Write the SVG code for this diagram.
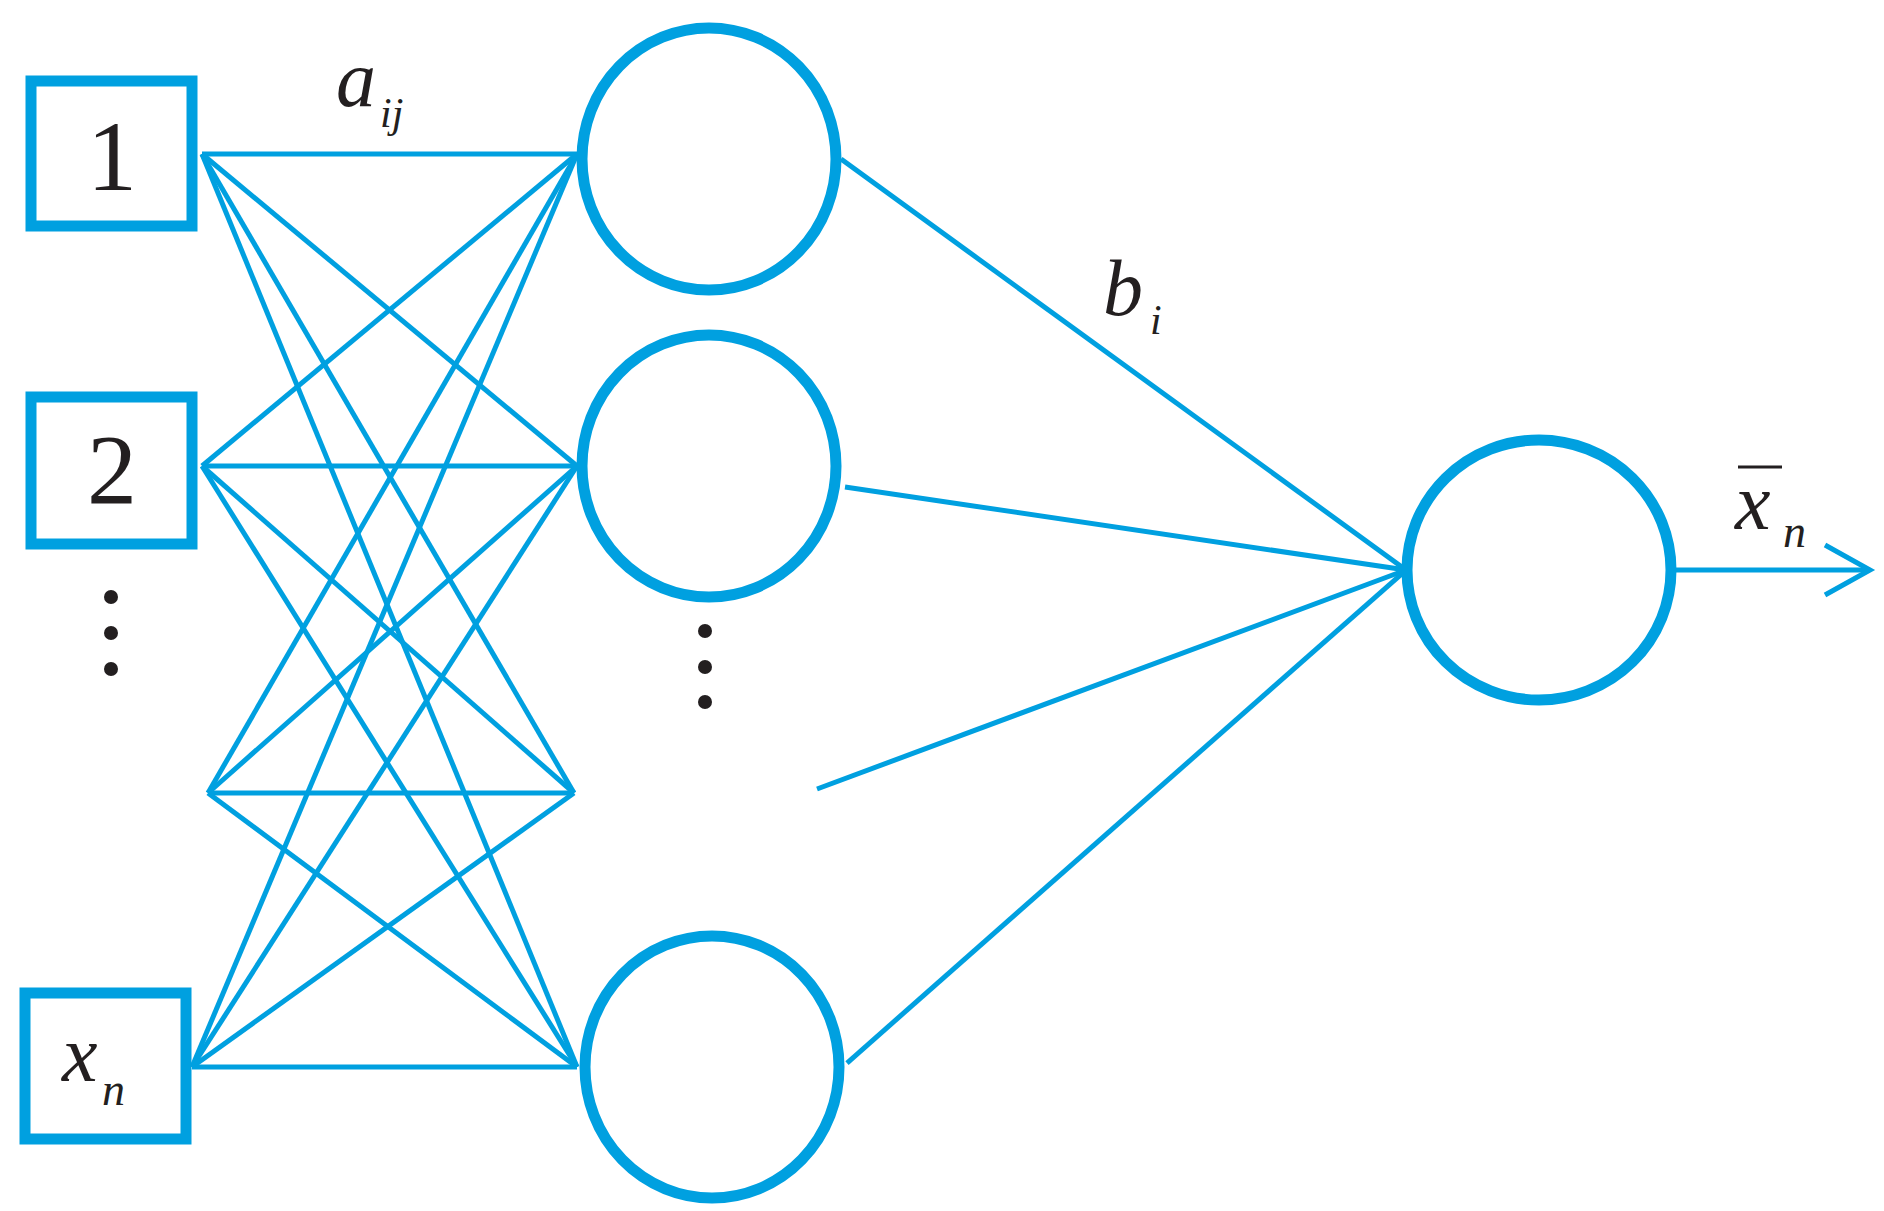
<svg xmlns="http://www.w3.org/2000/svg" width="1884" height="1211" viewBox="0 0 1884 1211">
<style>
.n{fill:#fff;stroke:#00a0e0;stroke-width:11}
.c line,.c polyline{stroke:#00a0e0;stroke-width:5;fill:none}
.t{font-family:"Liberation Serif",serif;fill:#231f20}
.i{font-style:italic}
.d{fill:#231f20}
</style>
<rect width="1884" height="1211" fill="#fff"/>
<g id="connectors" class="c">
<line x1="202" y1="154" x2="577" y2="154"/><line x1="202" y1="154" x2="577" y2="466"/><line x1="202" y1="154" x2="574" y2="793"/><line x1="202" y1="154" x2="577" y2="1067"/>
<line x1="202" y1="466" x2="577" y2="154"/><line x1="202" y1="466" x2="577" y2="466"/><line x1="202" y1="466" x2="574" y2="793"/><line x1="202" y1="466" x2="577" y2="1067"/>
<line x1="208" y1="793" x2="577" y2="154"/><line x1="208" y1="793" x2="577" y2="466"/><line x1="208" y1="793" x2="574" y2="793"/><line x1="208" y1="793" x2="577" y2="1067"/>
<line x1="192" y1="1067" x2="577" y2="154"/><line x1="192" y1="1067" x2="577" y2="466"/><line x1="192" y1="1067" x2="574" y2="793"/><line x1="192" y1="1067" x2="577" y2="1067"/>
<line x1="841" y1="159" x2="1406" y2="570"/><line x1="845" y1="487" x2="1406" y2="570"/><line x1="817" y1="789" x2="1406" y2="570"/><line x1="847" y1="1063" x2="1406" y2="570"/>
<line x1="1672" y1="570" x2="1868" y2="570"/><polyline points="1825,545 1870,570 1825,595"/>
</g>
<g id="in1"><rect class="n" x="31" y="81" width="161" height="145"/><text class="t" x="112" y="190" font-size="100" text-anchor="middle">1</text></g>
<g id="in2"><rect class="n" x="31" y="397" width="161" height="147"/><text class="t" x="112" y="503" font-size="100" text-anchor="middle">2</text></g>
<g id="inn"><rect class="n" x="25" y="993" width="161" height="146"/><text class="t i" x="62" y="1081" font-size="80">x</text><text class="t i" x="102" y="1105" font-size="46">n</text></g>
<g id="h1"><ellipse class="n" cx="709" cy="159" rx="127" ry="131"/></g>
<g id="h2"><ellipse class="n" cx="709" cy="466" rx="127" ry="131"/></g>
<g id="h3"><ellipse class="n" cx="712" cy="1067" rx="127" ry="131"/></g>
<g id="out"><ellipse class="n" cx="1539" cy="570" rx="132" ry="130"/></g>
<g id="dots">
<circle class="d" cx="111" cy="597" r="7"/><circle class="d" cx="111" cy="633" r="7"/><circle class="d" cx="111" cy="669" r="7"/>
<circle class="d" cx="705" cy="631" r="7"/><circle class="d" cx="705" cy="667" r="7"/><circle class="d" cx="705" cy="702" r="7"/>
</g>
<g id="labels">
<text class="t i" x="336" y="106" font-size="80">a</text><text class="t i" x="380" y="127" font-size="42">ij</text>
<text class="t i" x="1103" y="315" font-size="80">b</text><text class="t i" x="1150" y="334" font-size="42">i</text>
<text class="t i" x="1735" y="529" font-size="80">x</text><line x1="1738" y1="467" x2="1782" y2="467" stroke="#231f20" stroke-width="3"/><text class="t i" x="1783" y="547" font-size="46">n</text>
</g>
</svg>
